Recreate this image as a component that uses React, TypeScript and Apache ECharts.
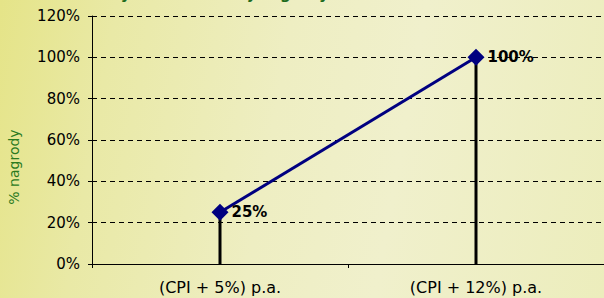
import React, { useEffect, useRef } from "react";
import * as echarts from "echarts";

const categories = ["(CPI + 5%) p.a.", "(CPI + 12%) p.a."];
const rewardValues = [25, 100];
const yTicks = { min: 0, max: 120, interval: 20 };
const titleText = "Wysokość rocznej nagrody w zależności od wzrostu EPS";
const yAxisName = "% nagrody";

export default function App() {
  const ref = useRef<HTMLDivElement>(null);
  useEffect(() => {
    if (!ref.current) return;
    const chart = echarts.init(ref.current, undefined, { renderer: "svg" });
    const font = "DejaVu Sans, Verdana, sans-serif";
    chart.setOption({
      animation: false,
      backgroundColor: "transparent",
      textStyle: { fontFamily: font },
      grid: { left: 92, top: 16, width: 516, height: 248, containLabel: false },
      graphic: [
        {
          type: "text",
          x: 340,
          y: 1,
          style: {
            text: titleText,
            font: "bold 15px DejaVu Sans, Verdana, sans-serif",
            fill: "#1d6b1d",
            textAlign: "center",
            textVerticalAlign: "bottom",
          },
        },
        {
          type: "text",
          x: 14,
          y: 167,
          rotation: Math.PI / 2,
          style: {
            text: yAxisName,
            font: "14px DejaVu Sans, Verdana, sans-serif",
            fill: "#2a7a1e",
            textAlign: "center",
            textVerticalAlign: "middle",
          },
        },
      ],
      xAxis: {
        type: "category",
        data: categories,
        boundaryGap: true,
        axisLine: { show: true, lineStyle: { color: "#000", width: 1 } },
        axisTick: { show: true, length: 4, alignWithLabel: false, lineStyle: { color: "#000" } },
        axisLabel: { color: "#000", fontSize: 16, margin: 15, fontFamily: font },
        splitLine: { show: false },
      },
      yAxis: {
        type: "value",
        min: yTicks.min,
        max: yTicks.max,
        interval: yTicks.interval,
        axisLine: { show: true, lineStyle: { color: "#000", width: 1 } },
        axisTick: { show: true, length: 4, lineStyle: { color: "#000" } },
        axisLabel: { color: "#000", fontSize: 15, margin: 12, formatter: "{value}%", fontFamily: font },
        splitLine: { show: true, lineStyle: { color: "#000", type: [5, 4], width: 1 } },
      },
      series: [
        {
          type: "bar",
          data: rewardValues,
          barWidth: 3,
          itemStyle: { color: "#000" },
          z: 1,
          silent: true,
        },
        {
          type: "line",
          data: rewardValues,
          symbol: "diamond",
          symbolSize: 17,
          lineStyle: { color: "#000080", width: 3 },
          itemStyle: { color: "#000080" },
          z: 3,
          label: {
            show: true,
            position: "right",
            distance: 3,
            formatter: "{c}%",
            color: "#000",
            fontWeight: "bold",
            fontSize: 15,
            fontFamily: font,
          },
        },
      ],
    });
    return () => chart.dispose();
  }, []);
  return (
    <div
      style={{
        position: "absolute",
        left: 0,
        top: 0,
        width: 604,
        height: 298,
        overflow: "hidden",
        background:
          "linear-gradient(100deg, #e5e488 0%, #e9e9a6 18%, #eeeec2 45%, #f0f0cc 65%, #ecedbc 100%)",
      }}
    >
      <div ref={ref} style={{ width: 604, height: 298 }} />
    </div>
  );
}
